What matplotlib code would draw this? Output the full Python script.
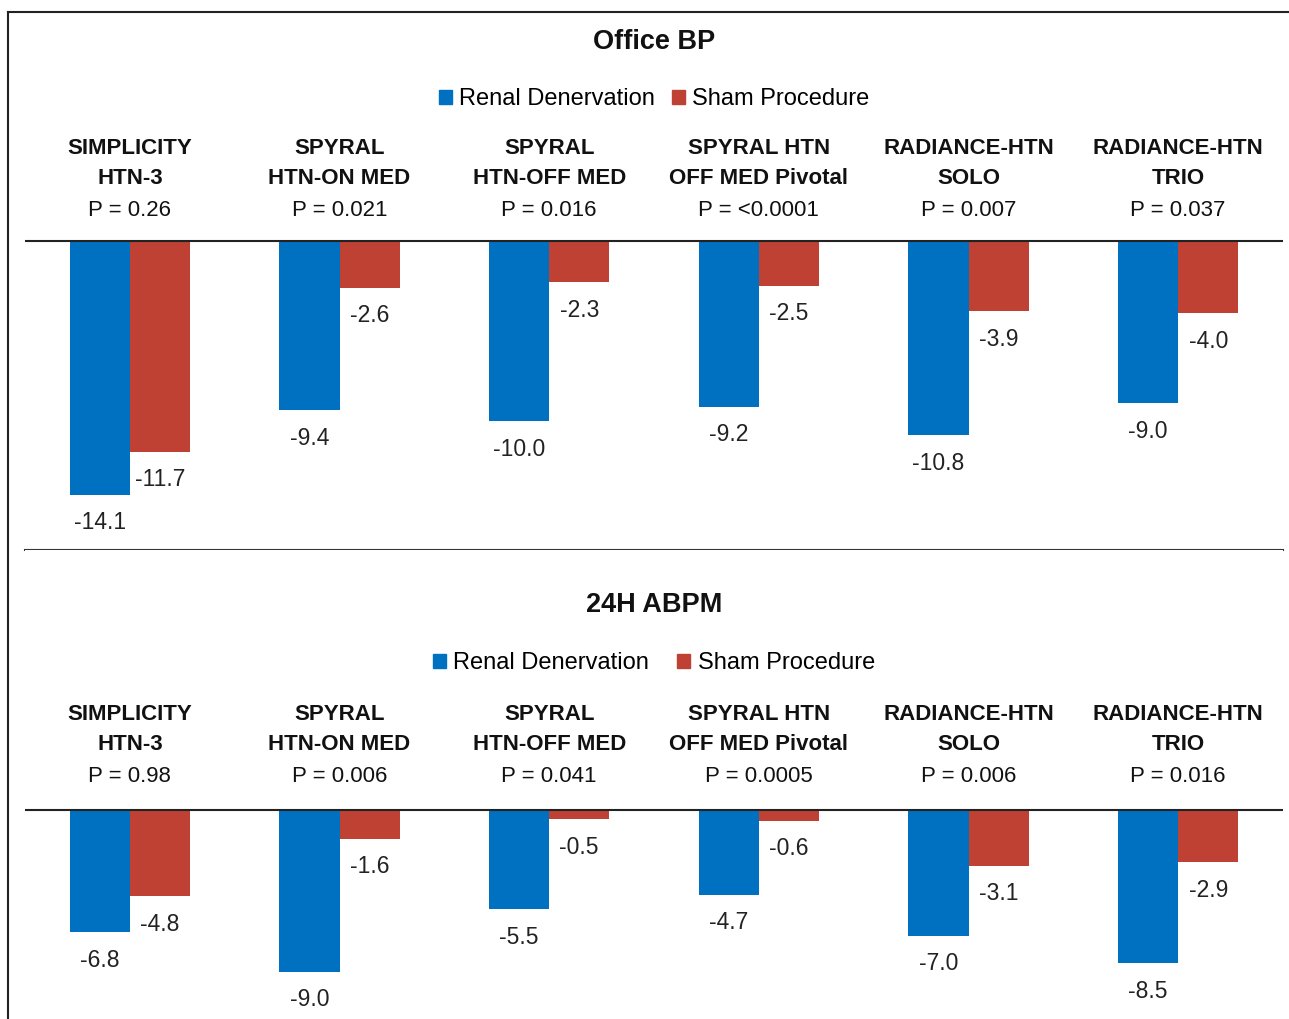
import numpy as np
import matplotlib.pyplot as plt
from matplotlib.patches import Patch
from matplotlib.lines import Line2D
from matplotlib.transforms import blended_transform_factory

plt.rcParams['font.family'] = ['Liberation Sans', 'DejaVu Sans']

trial_line1 = ['SIMPLICITY', 'SPYRAL', 'SPYRAL', 'SPYRAL HTN', 'RADIANCE-HTN', 'RADIANCE-HTN']
trial_line2 = ['HTN-3', 'HTN-ON MED', 'HTN-OFF MED', 'OFF MED Pivotal', 'SOLO', 'TRIO']
office_rdn = [-14.1, -9.4, -10.0, -9.2, -10.8, -9.0]
office_sham = [-11.7, -2.6, -2.3, -2.5, -3.9, -4.0]
office_p = ['0.26', '0.021', '0.016', '<0.0001', '0.007', '0.037']
abpm_rdn = [-6.8, -9.0, -5.5, -4.7, -7.0, -8.5]
abpm_sham = [-4.8, -1.6, -0.5, -0.6, -3.1, -2.9]
abpm_p = ['0.98', '0.006', '0.041', '0.0005', '0.006', '0.016']

BLUE = '#0070C0'
RED = '#BE4133'
W, H = 1289, 1019
PX = 18.0  # pixels per mmHg

fig = plt.figure(figsize=(W / 100, H / 100), dpi=100)


def fy(ypix):
    return 1 - ypix / H


def panel(top, zero, bottom, title, rdn, sham, pvals, title_y, leg_y, head_y, colsp, sep):
    ax = fig.add_axes([25 / W, fy(bottom), 1258 / W, (bottom - top) / H])
    ax.set_xlim(-0.5, 5.5)
    ax.set_ylim(-(bottom - zero) / PX, (zero - top) / PX)
    x = np.arange(len(rdn))
    bw = 60 / 209.5
    ax.bar(x - bw / 2, rdn, bw, color=BLUE)
    ax.bar(x + bw / 2, sham, bw, color=RED)
    ax.axhline(0, color='#222222', lw=1.5)
    for xi, v in zip(x - bw / 2, rdn):
        ax.annotate(f'{v:.1f}', (xi, v), xytext=(0, -28), textcoords='offset pixels',
                    ha='center', va='center', fontsize=16.5, color='#222222')
    for xi, v in zip(x + bw / 2, sham):
        ax.annotate(f'{v:.1f}', (xi, v), xytext=(0, -28), textcoords='offset pixels',
                    ha='center', va='center', fontsize=16.5, color='#222222')

    tr = blended_transform_factory(ax.transData, fig.transFigure)
    for i in range(len(rdn)):
        ax.text(i, fy(head_y[0]), trial_line1[i], transform=tr, ha='center', va='center',
                fontsize=16, fontweight='bold', color='#111111')
        ax.text(i, fy(head_y[1]), trial_line2[i], transform=tr, ha='center', va='center',
                fontsize=16, fontweight='bold', color='#111111')
        ax.text(i, fy(head_y[2]), 'P = ' + pvals[i], transform=tr, ha='center', va='center',
                fontsize=16, color='#111111')

    fig.text(654 / W, fy(title_y), title, ha='center', va='center', fontsize=19.5,
             fontweight='bold', color='#111111')
    handles = [Patch(color=BLUE, label='Renal Denervation'),
               Patch(color=RED, label='Sham Procedure')]
    fig.legend(handles=handles, loc='center', bbox_to_anchor=(654 / W, fy(leg_y)), ncol=2,
               frameon=False, fontsize=17, handlelength=0.55, handleheight=0.55,
               handletextpad=0.3, columnspacing=colsp, borderpad=0, borderaxespad=0)

    for s in ['top', 'left', 'right']:
        ax.spines[s].set_visible(False)
    if sep:
        ax.spines['bottom'].set_color('#333333')
        ax.spines['bottom'].set_linewidth(1.5)
    else:
        ax.spines['bottom'].set_visible(False)
    ax.set_xticks([])
    ax.set_yticks([])
    return ax


panel(12, 241, 550, 'Office BP', office_rdn, office_sham, office_p,
      42, 99, (149, 179, 210), 0.75, True)
panel(550, 810, 1019, '24H ABPM', abpm_rdn, abpm_sham, abpm_p,
      605, 663, (714, 745, 777), 1.2, False)

# outer frame (left and top edges)
fig.add_artist(Line2D([8 / W, 8 / W], [0, fy(12)], color='#222222', lw=1.5,
                      transform=fig.transFigure))
fig.add_artist(Line2D([8 / W, 1], [fy(12), fy(12)], color='#222222', lw=1.5,
                      transform=fig.transFigure))

fig.savefig('out.png', dpi=100)
